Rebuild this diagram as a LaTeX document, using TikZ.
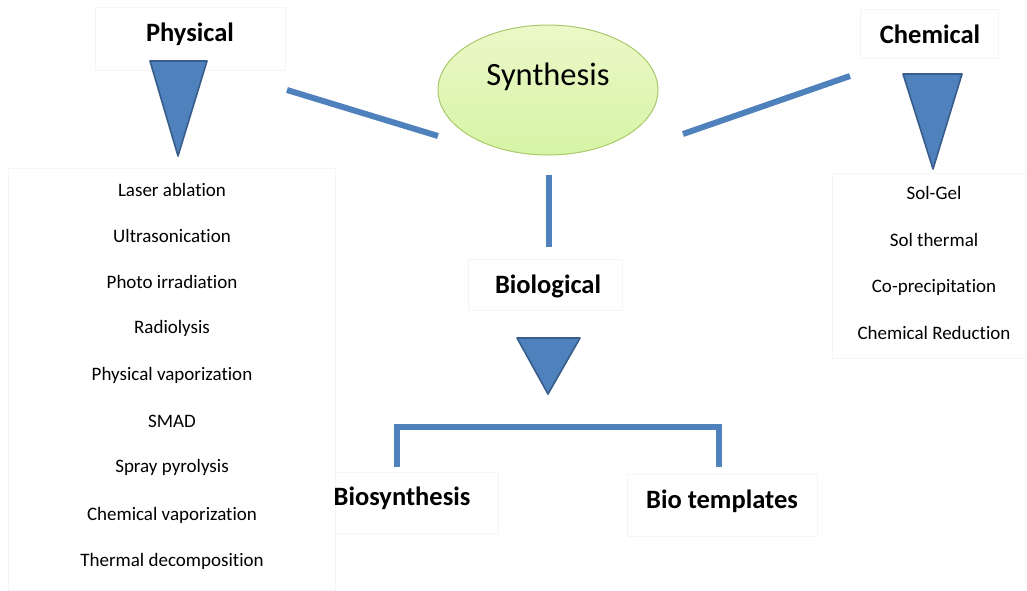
\documentclass[tikz,border=0pt]{standalone}
\usepackage{fontspec}
\setmainfont[Ligatures=NoCommon]{Carlito}
\usetikzlibrary{shapes.geometric}
\definecolor{blu}{HTML}{4F81BD}
\definecolor{bluedge}{HTML}{385D8A}
\definecolor{faint}{HTML}{F5F5F5}
\definecolor{elledge}{HTML}{A9C96A}
\definecolor{elltop}{HTML}{ECF8C8}
\definecolor{ellbot}{HTML}{D6F4A6}
\begin{document}
\begin{tikzpicture}[x=1pt,y=-1pt,
  faintbox/.style={draw=faint,line width=1pt},
  head/.style={font=\fontsize{26.5}{30}\selectfont\bfseries,inner sep=0pt},
  item/.style={font=\fontsize{19}{22}\selectfont,inner sep=0pt},
  tri/.style={fill=blu,draw=bluedge,line width=1.6pt,line join=round},
  link/.style={draw=blu,line width=6pt}]
\useasboundingbox (0,0) rectangle (1027,590);
% faint boxes
\draw[faintbox] (95,7) rectangle (285,70);
\draw[faintbox] (860,9) rectangle (998,58);
\draw[faintbox] (8,168) rectangle (335,590);
\draw[faintbox] (832,173) rectangle (1027,358);
\draw[faintbox] (468,259) rectangle (622,310);
\draw[faintbox] (335,472) rectangle (498,533);
\draw[faintbox] (627,474) rectangle (817,536);
% ellipse
\node[ellipse,draw=elledge,line width=1pt,top color=elltop,bottom color=ellbot,minimum width=220pt,minimum height=130pt,inner sep=0pt] (syn) at (548,90) {};
\node[font=\fontsize{32.5}{36}\selectfont,inner sep=0pt] (syntxt) at (548,77) {Synthesis};
% headers
\node[head] (phys) at (190,34) {Physical};
\node[head] (chem) at (930,34) {Chemical};
\node[head] (bio) at (548,286) {Biological};
\node[head] (biosyn) at (402,498) {Biosynthesis};
\node[head] (biotem) at (722,501) {Bio templates};
% triangles
\draw[tri] (150,61) -- (207,61) -- (178,156) -- cycle;
\draw[tri] (903,74) -- (962,74) -- (933,169) -- cycle;
\draw[tri] (517,338) -- (580,338) -- (548,394) -- cycle;
% connector coordinates
\coordinate (l1) at (287,90);
\coordinate (l2) at (438,136);
\coordinate (r1) at (683,134);
\coordinate (r2) at (850,76);
\coordinate (v1) at (549,175);
\coordinate (v2) at (549,247);
\coordinate (b1) at (397,467);
\coordinate (b2) at (397,427);
\coordinate (b3) at (719,427);
\coordinate (b4) at (719,467);
\draw[link] (l1) -- (l2);
\draw[link] (r1) -- (r2);
\draw[link] (v1) -- (v2);
\draw[link] (b1) -- (b2) -- (b3) -- (b4);
% physical list
\node[item] (p1) at (172,190) {Laser ablation};
\node[item] (p2) at (172,236) {Ultrasonication};
\node[item] (p3) at (172,282) {Photo irradiation};
\node[item] (p4) at (172,328) {Radiolysis};
\node[item] (p5) at (172,375) {Physical vaporization};
\node[item] (p6) at (172,421) {SMAD};
\node[item] (p7) at (172,467) {Spray pyrolysis};
\node[item] (p8) at (172,515) {Chemical vaporization};
\node[item] (p9) at (172,561) {Thermal decomposition};
% chemical list
\node[item] (c1) at (934,193) {Sol-Gel};
\node[item] (c2) at (934,240) {Sol thermal};
\node[item] (c3) at (934,287) {Co-precipitation};
\node[item] (c4) at (934,333) {Chemical Reduction};
\end{tikzpicture}
\end{document}
